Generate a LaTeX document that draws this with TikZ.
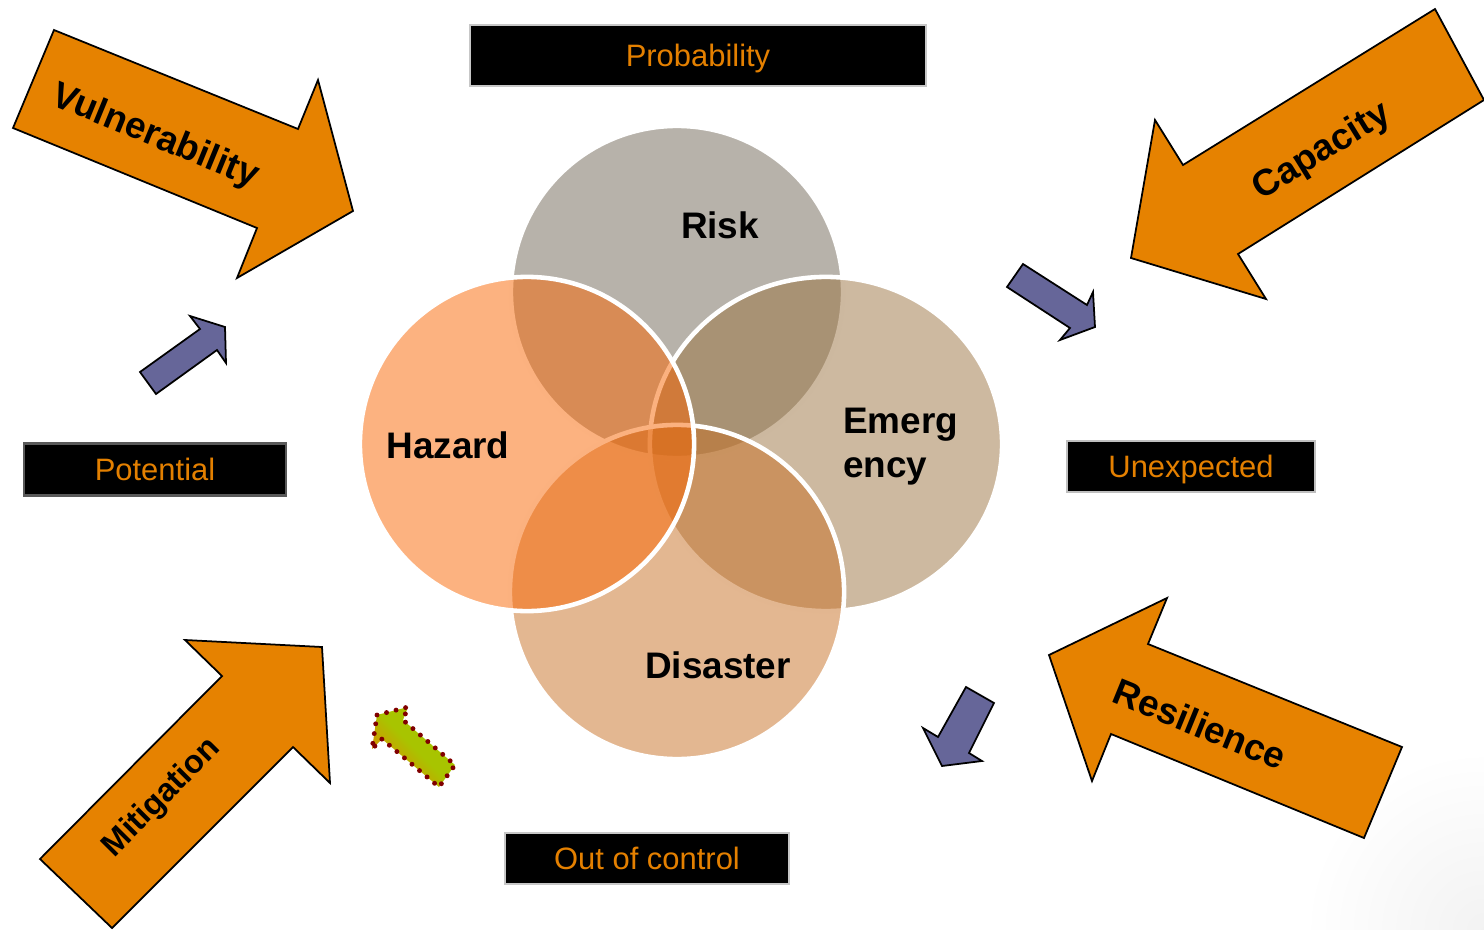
\documentclass[tikz,border=0pt]{standalone}
\usepackage{fontspec}
\setmainfont{Liberation Sans}
\definecolor{arroworange}{RGB}{230,130,0}
\definecolor{labelorange}{RGB}{228,128,0}
\definecolor{slate}{RGB}{102,102,153}
\definecolor{riskgray}{RGB}{111,101,85}
\definecolor{hazardorange}{RGB}{249,101,1}
\definecolor{emergtan}{RGB}{155,115,65}
\definecolor{disastertan}{RGB}{199,111,35}
\definecolor{dotred}{RGB}{128,0,0}
\definecolor{limegreen}{RGB}{168,196,0}
\tikzset{
bigarrow/.style={fill=arroworange,draw=black,line width=0.5pt},
smallarrow/.style={fill=slate,draw=black,line width=0.5pt},
venn/.style={fill=#1,fill opacity=0.5,draw=white,line width=1.3pt},
tag/.style={fill=black,draw=#1,line width=0.6pt,text=labelorange,text depth=0pt,
  font=\fontsize{8.8}{10}\selectfont,inner sep=0pt},
word/.style={font=\bfseries\fontsize{10.5}{12.5}\selectfont}}

\begin{document}
\begin{tikzpicture}[x=0.01cm,y=-0.01cm,semithick]
\useasboundingbox (0,0) rectangle (1484,930);
% faint slide shading in the corner
\shade[inner color=black!5,outer color=white] (1484,930) circle (1.8cm);
% venn of the four states
\coordinate(R)at(677,292);\coordinate(E)at(826,444);
\coordinate(D)at(677,592);\coordinate(H)at(527,444);
\draw[venn=riskgray](R)circle(1.66cm);
\draw[venn=emergtan](E)ellipse(1.76cm and 1.67cm);
\draw[venn=disastertan](D)circle(1.67cm);
\draw[venn=hazardorange](H)circle(1.67cm);
\node[word](risk)at(720,225){Risk};
\node[word](hazard)at(448,445){Hazard};
\node[word,align=left,anchor=west,inner sep=0pt](emerg)at(842,447){Emerg\\ency};
\node[word](disaster)at(718,665){Disaster};
% black caption boxes
\node[tag=black!22,minimum width=4.55cm,minimum height=0.61cm](prob)at(698,55.5){Probability};
\node[tag=black!65,minimum width=2.61cm,minimum height=0.52cm](pot)at(155,469.5){Potential};
\node[tag=black!25,minimum width=2.48cm,minimum height=0.51cm](unexp)at(1191,466.5){Unexpected};
\node[tag=black!22,minimum width=2.84cm,minimum height=0.51cm](ooc)at(647,858.5){Out of control};
% big arrows
\draw[bigarrow](54,30)--(298,129)--(318,80)--(353,211)--(237,278)--(257,228)--(13,128)--cycle;
\draw[bigarrow](1435,9)--(1484,100)--(1238,254)--(1266,299)--(1131,258)--(1155,120)--(1183,165)--cycle;
\draw[bigarrow](185,640)--(322,647)--(330,783)--(293,747)--(112,928)--(40,859)--(222,676)--cycle;
\draw[bigarrow](1167,598)--(1148,644)--(1402,747)--(1364,838)--(1111,734)--(1092,781)--(1049,655)--cycle;
\node[word,rotate=-22.3](vul)at(155,137){Vulnerability};
\node[word,rotate=31.7](cap)at(1322,152){Capacity};
\node[word,rotate=45.2,font=\bfseries\fontsize{9.2}{11}\selectfont](mit)at(162,798){Mitigation};
\node[word,rotate=-22.2](res)at(1200,724){Resilience};
% small arrows
\draw[smallarrow](140,372)--(200,329)--(190,316)--(225,327)--(226,363)--(217,350)--(156,394)--cycle;
\draw[smallarrow](1023,264)--(1087,305)--(1093,292)--(1095,327)--(1060,340)--(1070,328)--(1007,287)--cycle;
\draw[smallarrow](966,687)--(994,703)--(969,753)--(982,761)--(942,766)--(923,728)--(938,737)--cycle;
\path[top color=limegreen,bottom color=arroworange,middle color=limegreen,
  shading angle=-45,draw=dotred,line width=1.4pt,line cap=round,dash pattern=on 0pt off 2.8pt]
  (377,715)--(408,707)--(403,720)--(455,765)--(439,787)--(382,739)--(372,749)--cycle;
\end{tikzpicture}
\end{document}
